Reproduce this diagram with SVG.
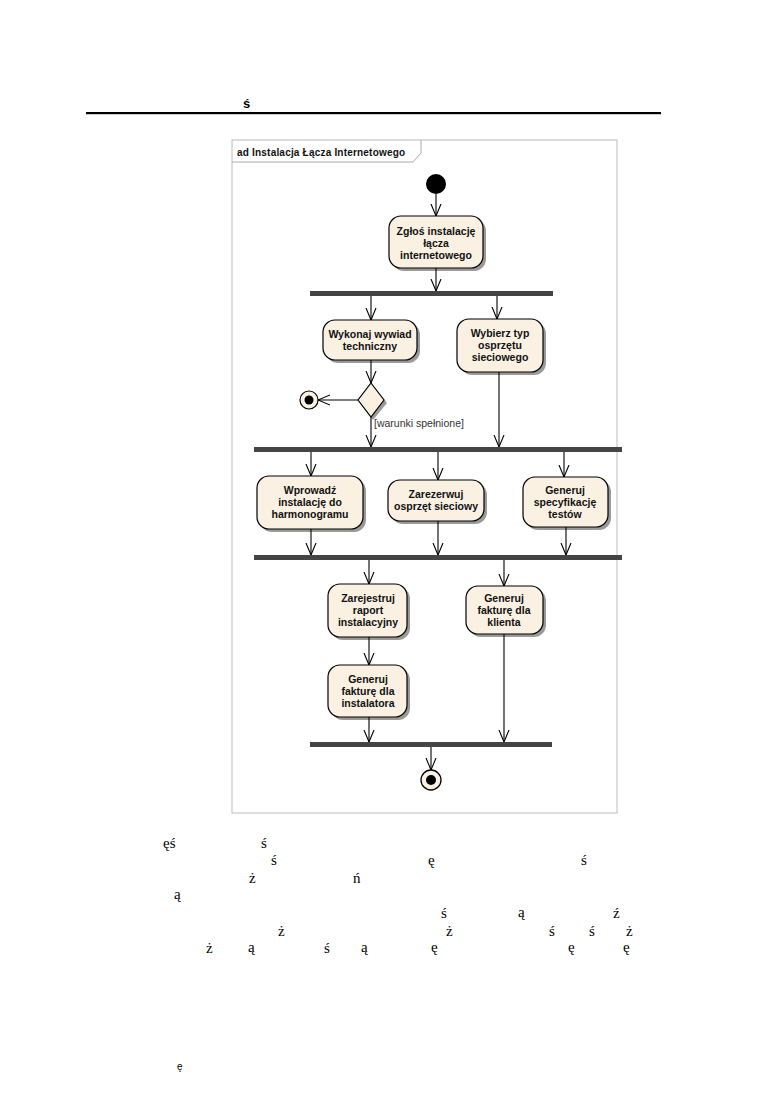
<svg xmlns="http://www.w3.org/2000/svg" width="774" height="1094" viewBox="0 0 774 1094">
<defs>
<marker id="arr" viewBox="0 0 12 12" markerWidth="12" markerHeight="12" refX="12" refY="6" orient="auto" markerUnits="userSpaceOnUse">
<path d="M0,1 L12,6 L0,11" fill="none" stroke="#000" stroke-width="1.1"/>
</marker>
</defs>
<style>
.act{fill:#FBF1E3;stroke:#000;stroke-width:1.2}
.sh{fill:#9a9a9a}
.bar{fill:#454545}
.lbl{font-family:"Liberation Sans",Arial,sans-serif;font-size:10.5px;font-weight:bold;fill:#111;text-anchor:middle}
.guard{font-family:"Liberation Sans",Arial,sans-serif;font-size:10.5px;fill:#333}
.con{stroke:#000;stroke-width:1.1;fill:none;marker-end:url(#arr)}
.ser{font-family:"Liberation Serif","Times New Roman",serif;font-size:15px;fill:#000}
</style>
<rect width="774" height="1094" fill="#fff"/>
<text x="243" y="108" font-family="Liberation Sans,Arial,sans-serif" font-size="13" font-weight="bold">ś</text>
<rect x="86" y="112" width="575" height="2.2" fill="#000"/>
<g id="frame">
<rect x="232" y="140" width="385" height="673" fill="#fff" stroke="#bbb" stroke-width="1"/>
<path d="M232,162 L413,162 L421,153 L421,140" fill="none" stroke="#aaa" stroke-width="1"/>
<text x="237" y="156" font-family="Liberation Sans,Arial,sans-serif" font-size="10" font-weight="bold" letter-spacing="0.2" fill="#111">ad Instalacja Łącza Internetowego</text>
</g>
<g id="start"><circle cx="436" cy="184" r="10" fill="#000"/></g>
<g id="n1">
<rect class="sh" x="392" y="219" width="94" height="52" rx="12"/>
<rect class="act" x="389" y="216" width="94" height="52" rx="12"/>
<text class="lbl" x="436" y="235">Zgłoś instalację</text>
<text class="lbl" x="436" y="247">łącza</text>
<text class="lbl" x="436" y="259">internetowego</text>
</g>
<g id="fork1"><rect class="bar" x="310" y="291" width="243" height="5"/></g>
<g id="n2">
<rect class="sh" x="326" y="323" width="94" height="40" rx="12"/>
<rect class="act" x="323" y="320" width="94" height="40" rx="12"/>
<text class="lbl" x="370" y="338">Wykonaj wywiad</text>
<text class="lbl" x="370" y="350">techniczny</text>
</g>
<g id="n3">
<rect class="sh" x="460" y="322" width="86" height="53" rx="12"/>
<rect class="act" x="457" y="319" width="86" height="53" rx="12"/>
<text class="lbl" x="500" y="337">Wybierz typ</text>
<text class="lbl" x="500" y="349">osprzętu</text>
<text class="lbl" x="500" y="361">sieciowego</text>
</g>
<g id="decision">
<path d="M373,386 L387,403 L373,420 L360,403 Z" fill="#9a9a9a"/>
<path d="M371,383 L384,400 L371,417 L358,400 Z" class="act"/>
<text class="guard" x="374" y="427">[warunki spełnione]</text>
</g>
<g id="final1">
<circle cx="309" cy="400" r="9" fill="#FBF1E3" stroke="#000" stroke-width="1.2"/>
<circle cx="309" cy="400" r="4.5" fill="#000"/>
</g>
<g id="fork2"><rect class="bar" x="254" y="447" width="368" height="5"/></g>
<g id="n4">
<rect class="sh" x="260" y="479" width="106" height="53" rx="12"/>
<rect class="act" x="257" y="476" width="106" height="53" rx="12"/>
<text class="lbl" x="310" y="494">Wprowadź</text>
<text class="lbl" x="310" y="506">instalację do</text>
<text class="lbl" x="310" y="518">harmonogramu</text>
</g>
<g id="n5">
<rect class="sh" x="391" y="483" width="96" height="41" rx="12"/>
<rect class="act" x="388" y="480" width="96" height="41" rx="12"/>
<text class="lbl" x="436" y="498">Zarezerwuj</text>
<text class="lbl" x="436" y="510">osprzęt sieciowy</text>
</g>
<g id="n6">
<rect class="sh" x="526" y="480" width="85" height="50" rx="12"/>
<rect class="act" x="523" y="477" width="85" height="50" rx="12"/>
<text class="lbl" x="565" y="494">Generuj</text>
<text class="lbl" x="565" y="506">specyfikację</text>
<text class="lbl" x="565" y="518">testów</text>
</g>
<g id="fork3"><rect class="bar" x="254" y="555" width="368" height="5"/></g>
<g id="n7">
<rect class="sh" x="331" y="587" width="79" height="53" rx="12"/>
<rect class="act" x="328" y="584" width="79" height="53" rx="12"/>
<text class="lbl" x="368" y="602">Zarejestruj</text>
<text class="lbl" x="368" y="614">raport</text>
<text class="lbl" x="368" y="626">instalacyjny</text>
</g>
<g id="n8">
<rect class="sh" x="469" y="589" width="77" height="48" rx="12"/>
<rect class="act" x="466" y="586" width="77" height="48" rx="12"/>
<text class="lbl" x="504" y="602">Generuj</text>
<text class="lbl" x="504" y="614">fakturę dla</text>
<text class="lbl" x="504" y="626">klienta</text>
</g>
<g id="n9">
<rect class="sh" x="331" y="668" width="79" height="52" rx="12"/>
<rect class="act" x="328" y="665" width="79" height="52" rx="12"/>
<text class="lbl" x="368" y="683">Generuj</text>
<text class="lbl" x="368" y="695">fakturę dla</text>
<text class="lbl" x="368" y="707">instalatora</text>
</g>
<g id="join4"><rect class="bar" x="310" y="742" width="242" height="5"/></g>
<g id="final2">
<circle cx="431" cy="780" r="10" fill="#FBF1E3" stroke="#000" stroke-width="1.3"/>
<circle cx="431" cy="780" r="5" fill="#000"/>
</g>
<g id="connectors">
<line class="con" x1="436" y1="194" x2="436" y2="216"/>
<line class="con" x1="436" y1="268" x2="436" y2="291"/>
<line class="con" x1="371" y1="296" x2="371" y2="320"/>
<line class="con" x1="497" y1="296" x2="497" y2="319"/>
<line class="con" x1="371" y1="360" x2="371" y2="383"/>
<line class="con" x1="358" y1="400" x2="318" y2="400"/>
<line class="con" x1="371" y1="417" x2="371" y2="447"/>
<line class="con" x1="499" y1="372" x2="499" y2="447"/>
<line class="con" x1="311" y1="452" x2="311" y2="476"/>
<line class="con" x1="438" y1="452" x2="438" y2="480"/>
<line class="con" x1="564" y1="452" x2="564" y2="477"/>
<line class="con" x1="311" y1="529" x2="311" y2="555"/>
<line class="con" x1="438" y1="521" x2="438" y2="555"/>
<line class="con" x1="566" y1="527" x2="566" y2="555"/>
<line class="con" x1="369" y1="560" x2="369" y2="584"/>
<line class="con" x1="504" y1="560" x2="504" y2="586"/>
<line class="con" x1="369" y1="637" x2="369" y2="665"/>
<line class="con" x1="369" y1="717" x2="369" y2="742"/>
<line class="con" x1="504" y1="634" x2="504" y2="742"/>
<line class="con" x1="431" y1="747" x2="431" y2="770"/>
</g>
<g id="bodytext">
<text class="ser" x="163" y="848">ęś</text>
<text class="ser" x="261" y="848">ś</text>
<text class="ser" x="271" y="865">ś</text>
<text class="ser" x="428" y="865">ę</text>
<text class="ser" x="581" y="865">ś</text>
<text class="ser" x="249" y="883">ż</text>
<text class="ser" x="353" y="883">ń</text>
<text class="ser" x="174" y="899">ą</text>
<text class="ser" x="441" y="918">ś</text>
<text class="ser" x="518" y="917">ą</text>
<text class="ser" x="613" y="918">ź</text>
<text class="ser" x="278" y="936">ż</text>
<text class="ser" x="446" y="936">ż</text>
<text class="ser" x="549" y="936">ś</text>
<text class="ser" x="589" y="936">ś</text>
<text class="ser" x="626" y="936">ż</text>
<text class="ser" x="206" y="953">ż</text>
<text class="ser" x="248" y="952">ą</text>
<text class="ser" x="324" y="953">ś</text>
<text class="ser" x="361" y="952">ą</text>
<text class="ser" x="431" y="952">ę</text>
<text class="ser" x="568" y="952">ę</text>
<text class="ser" x="623" y="952">ę</text>
<text x="177" y="1070" font-family="Liberation Sans,Arial,sans-serif" font-size="10">ę</text>
</g>
</svg>
